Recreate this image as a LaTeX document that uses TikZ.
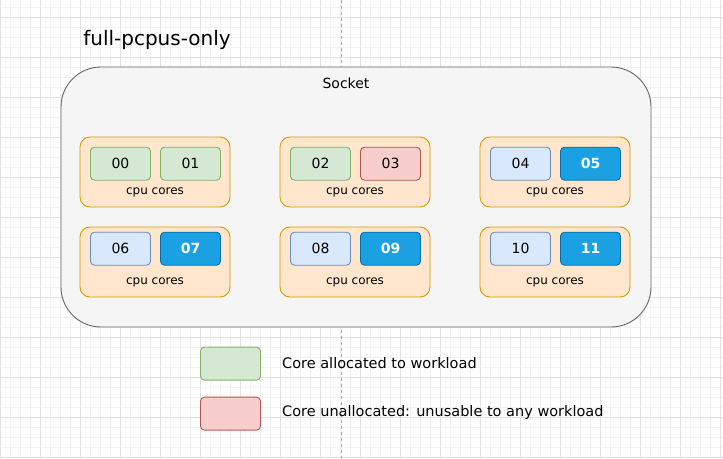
\documentclass[tikz,border=0pt]{standalone}
\usepackage{fontspec}
\setmainfont{DejaVu Sans}
\definecolor{gridminor}{HTML}{F2F2F2}
\definecolor{gridmajor}{HTML}{E2E2E2}
\definecolor{sockfill}{HTML}{F5F5F5}
\definecolor{sockline}{HTML}{666666}
\definecolor{grpfill}{HTML}{FFE6CC}
\definecolor{grpline}{HTML}{D79B00}
\definecolor{grnfill}{HTML}{D5E8D4}
\definecolor{grnline}{HTML}{82B366}
\definecolor{redfill}{HTML}{F8CECC}
\definecolor{redline}{HTML}{B85450}
\definecolor{lbfill}{HTML}{DAE8FC}
\definecolor{lbline}{HTML}{6C8EBF}
\definecolor{dbfill}{HTML}{1BA1E2}
\definecolor{dbline}{HTML}{006EAF}
\begin{document}
\begin{tikzpicture}[x=1pt,y=-1pt,
  minorgrid/.style={draw=gridminor,line width=0.8pt},
  majorgrid/.style={draw=gridmajor,line width=0.8pt},
  socketbox/.style={draw=sockline,fill=sockfill,line width=0.9pt,rounded corners=40pt,minimum width=590pt,minimum height=260pt},
  grpbox/.style={draw=grpline,fill=grpfill,line width=0.9pt,rounded corners=10pt,minimum width=150pt,minimum height=70pt},
  corebox/.style={line width=0.9pt,rounded corners=4pt,minimum width=60pt,minimum height=33pt,font=\fontsize{14}{16}\selectfont},
  green/.style={corebox,draw=grnline,fill=grnfill},
  red/.style={corebox,draw=redline,fill=redfill},
  lblue/.style={corebox,draw=lbline,fill=lbfill},
  dblue/.style={corebox,draw=dbline,fill=dbfill,text=white,font=\fontsize{14}{16}\selectfont\bfseries},
  grplabel/.style={font=\fontsize{12}{14}\selectfont,inner sep=0pt},
  legtext/.style={anchor=west,inner sep=0pt,font=\fontsize{14.5}{17}\selectfont}
]
\useasboundingbox (0,0) rectangle (723,458);
\fill[white] (0,0) rectangle (723,458);
\foreach \x in {0,10,...,720} \draw[minorgrid] (\x,0) -- (\x,458);
\foreach \y in {7,17,...,457} \draw[minorgrid] (0,\y) -- (723,\y);
\foreach \x in {0,40,...,720} \draw[majorgrid] (\x,0) -- (\x,458);
\foreach \y in {17,57,...,457} \draw[majorgrid] (0,\y) -- (723,\y);
\draw[draw=gray!70,dashed,line width=0.8pt] (341,0) -- (341,458);

\node[inner sep=0pt,font=\fontsize{20}{24}\selectfont] (title) at (157,40) {full-pcpus-only};

\node[socketbox] (sock) at (356,197) {};
\node[inner sep=0pt,font=\fontsize{14}{16}\selectfont] (socklabel) at (346,83) {Socket};

% row 1
\node[grpbox] (g1) at (155,172) {};
\node[grpbox] (g2) at (355,172) {};
\node[grpbox] (g3) at (555,172) {};
\node[green] (c00) at (120.5,163.7) {00};
\node[green] (c01) at (190.5,163.7) {01};
\node[green] (c02) at (320.5,163.7) {02};
\node[red]   (c03) at (390.5,163.7) {03};
\node[lblue] (c04) at (520.5,163.7) {04};
\node[dblue] (c05) at (590.5,163.7) {05};
\node[grplabel] (l1) at (155,192.3) {cpu cores};
\node[grplabel] (l2) at (355,192.3) {cpu cores};
\node[grplabel] (l3) at (555,192.3) {cpu cores};

% row 2
\node[grpbox] (g4) at (155,262) {};
\node[grpbox] (g5) at (355,262) {};
\node[grpbox] (g6) at (555,262) {};
\node[lblue] (c06) at (120.5,248.7) {06};
\node[dblue] (c07) at (190.5,248.7) {07};
\node[lblue] (c08) at (320.5,248.7) {08};
\node[dblue] (c09) at (390.5,248.7) {09};
\node[lblue] (c10) at (520.5,248.7) {10};
\node[dblue] (c11) at (590.5,248.7) {11};
\node[grplabel] (l4) at (155,282.3) {cpu cores};
\node[grplabel] (l5) at (355,282.3) {cpu cores};
\node[grplabel] (l6) at (555,282.3) {cpu cores};

% legend
\node[green] (leg1) at (230.5,363.6) {};
\node[red]   (leg2) at (230.5,413.6) {};
\node[legtext] (legt1) at (282,363.3) {Core allocated to workload};
\node[legtext] (legt2) at (282,412.7) {Core unallocated: unusable to any workload};
\end{tikzpicture}
\end{document}
